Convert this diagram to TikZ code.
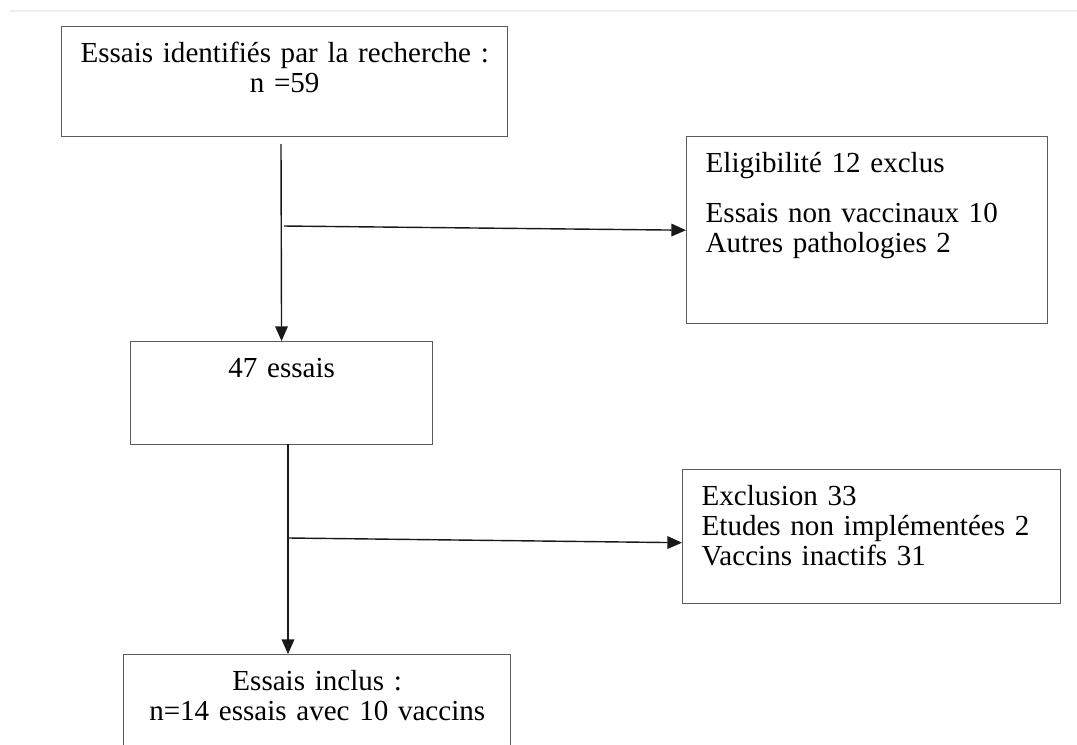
\documentclass[tikz,border=0pt]{standalone}
\usepackage{fontspec}
\setmainfont{Liberation Serif}
\usepackage{xcolor}
\usepackage{tikz}
\usetikzlibrary{arrows.meta,positioning}
\definecolor{clrE}{RGB}{90,90,90}
\definecolor{clrT}{RGB}{238,238,238}

\begin{document}
\begin{tikzpicture}[x=1cm,y=1cm,font=\fontsize{12.4pt}{0.45cm}\selectfont,
   fstage/.style={rectangle,draw=clrE,line width=0.6pt,anchor=north west,
     align=center,inner xsep=0.1cm,inner ysep=0.14cm,text height=0.4cm},
   fout/.style={rectangle,draw=clrE,line width=0.6pt,anchor=north west,
     align=left,inner xsep=0.285cm,inner ysep=0.14cm,text height=0.4cm},
   ar/.style={-{Triangle[length=0.22cm,width=0.19cm]},line width=0.6pt,draw=black!90}]

  \useasboundingbox (0,0) rectangle (16.155,-11.16);
  \draw[clrT,line width=0.03cm] (0.15,-0.165) -- (16.155,-0.165);

  \node[fstage,text width=6.49cm,text depth=0.97cm] (top) at (0.915,-0.39)
    {Essais identifiés par la recherche :\\ n =59};
  \node[fout,text width=4.845cm,text depth=2.125cm] (excl1) at (10.29,-2.04)
    {Eligibilité 12 exclus\\[0.3cm]
     Essais non vaccinaux 10\\
     Autres pathologies 2};
  \node[fstage,text width=4.33cm,text depth=0.865cm] (mid) at (1.95,-5.115)
    {47 essais};
  \node[fout,text width=5.1cm,text depth=1.33cm] (excl2) at (10.23,-7.035)
    {Exclusion 33\\
     Etudes non implémentées 2\\
     Vaccins inactifs 31};
  \node[fstage,text width=5.605cm,text depth=0.92cm] (incl) at (1.845,-9.81)
    {Essais inclus :\\ n=14 essais avec 10 vaccins};

  \coordinate (s1) at (4.215,-2.16);
  \coordinate (j1) at (4.26,-3.39);
  \coordinate (s2) at (4.32,-6.66);
  \coordinate (j2) at (4.335,-8.07);

  \draw[ar] (s1) -- (mid);
  \draw[ar] (j1) -- (excl1.west);
  \draw[ar] (s2) -- (s2 |- incl.north);
  \draw[ar] (j2) -- ([yshift=-0.09cm]excl2.west);
\end{tikzpicture}
\end{document}
